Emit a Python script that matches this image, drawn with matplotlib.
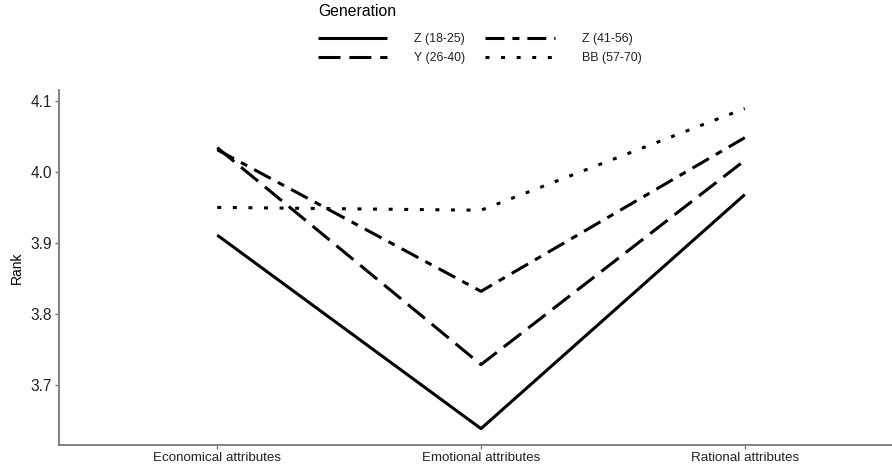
import matplotlib.pyplot as plt
import numpy as np

plt.rcParams['font.family'] = ['Liberation Sans', 'DejaVu Sans']

# categories on the x axis
attributes = ['Economical attributes', 'Emotional attributes', 'Rational attributes']

# mean rank per generation
gen_labels = ['Z (18-25)', 'Y (26-40)', 'Z (41-56)', 'BB (57-70)']
z_18_25 = [3.911, 3.639, 3.968]
y_26_40 = [4.034, 3.729, 4.016]
z_41_56 = [4.031, 3.832, 4.048]
bb_57_70 = [3.950, 3.946, 4.089]

y_ticks = [3.7, 3.8, 3.9, 4.0, 4.1]


def main():
    fig = plt.figure(figsize=(8.92, 4.68), dpi=100)
    # axes runs past the right edge like in the original
    ax = fig.add_axes([59 / 892, 23 / 468, (903 - 59) / 892, (445 - 90) / 468])

    x = np.arange(len(attributes))
    lw = 2.2
    series = [z_18_25, y_26_40, z_41_56, bb_57_70]
    # dash patterns in linewidth units
    styles = [
        (0, ()),
        (0, (7.2, 2.9)),
        (0, (6.2, 2.6, 2.3, 2.6)),
        (0, (1.3, 3.8)),
    ]
    for vals, lab, ls in zip(series, gen_labels, styles):
        ax.plot(x, vals, color='black', lw=lw, linestyle=ls,
                dash_capstyle='butt', solid_joinstyle='miter', label=lab)

    ax.set_xlim(-0.6, len(attributes) - 1 + 0.6)
    ax.set_ylim(3.616, 4.115)
    ax.set_xticks(x)
    ax.set_xticklabels(attributes)
    ax.set_yticks(y_ticks)
    ax.set_yticklabels(['{:.1f}'.format(v) for v in y_ticks])
    ax.set_ylabel('Rank', fontsize=10, color='black', labelpad=5)

    for side in ['top', 'right']:
        ax.spines[side].set_visible(False)
    for side in ['left', 'bottom']:
        ax.spines[side].set_color('#777777')
        ax.spines[side].set_linewidth(1.3)
    ax.tick_params(axis='both', colors='#777777', length=3, width=1,
                   labelcolor='#222222', pad=2)
    ax.tick_params(axis='x', labelsize=9.6)
    ax.tick_params(axis='y', labelsize=11.2)

    leg = fig.legend(loc='upper left', bbox_to_anchor=(318 / 892, 1 - 4 / 468),
                     ncol=2, frameon=False, title='Generation',
                     alignment='left', fontsize=8.9, title_fontsize=11.3,
                     handlelength=5.6, handletextpad=2.2, columnspacing=1.6,
                     labelspacing=0.6, borderpad=0, borderaxespad=0)
    leg._legend_box.sep = 10
    for t in leg.get_texts():
        t.set_color('#222222')

    fig.savefig('out.png', dpi=100)


if __name__ == "__main__":
    main()
